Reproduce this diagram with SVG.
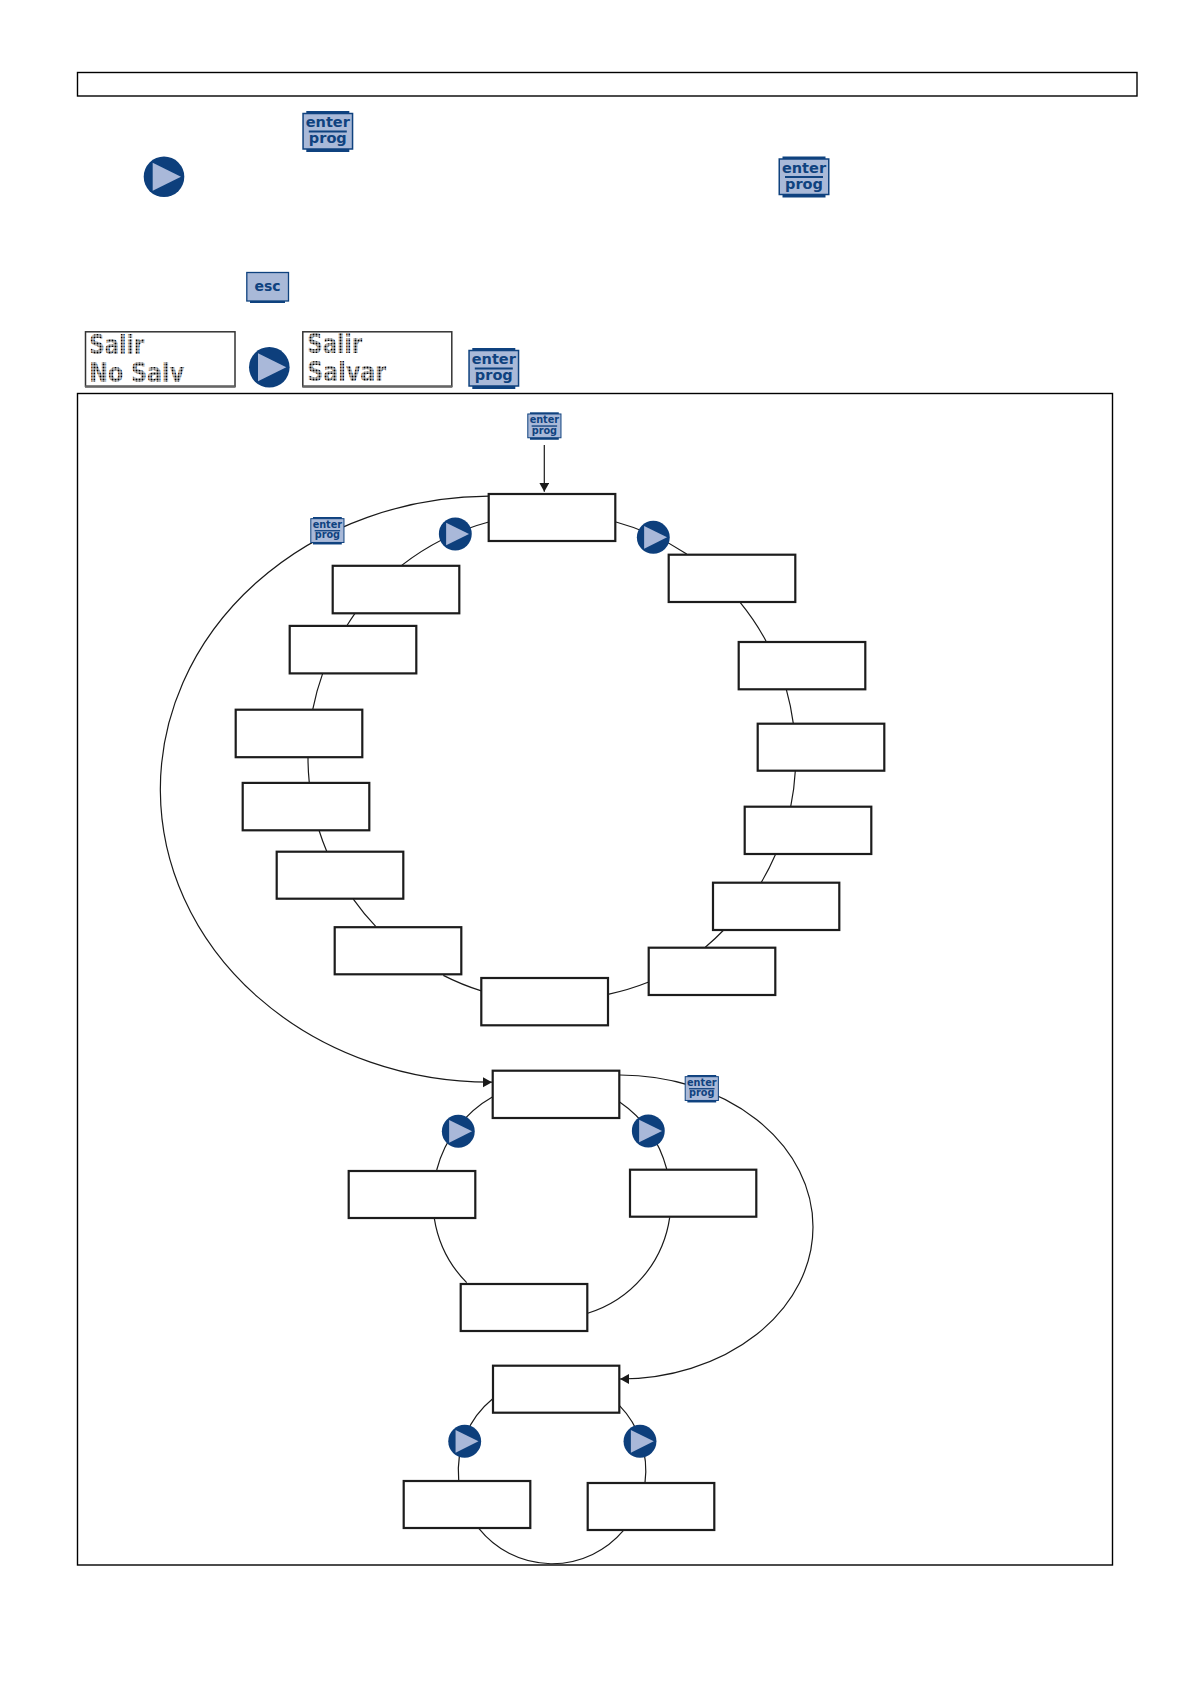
<svg xmlns="http://www.w3.org/2000/svg" xmlns:xlink="http://www.w3.org/1999/xlink" width="1190" height="1684" viewBox="0 0 1190 1684">
<style>
.frame{fill:none;stroke:#000;stroke-width:1.4}
.node{fill:#fff;stroke:#1c1c1c;stroke-width:2.2}
.edge{fill:none;stroke:#1a1a1a;stroke-width:1.2}
.it{font-family:"DejaVu Sans",sans-serif;font-weight:700;font-size:14.5px;fill:#0f427f;text-anchor:middle}
.lcdbox{fill:#fff;stroke:#333;stroke-width:1.5}
.lcdt{font-family:"DejaVu Sans",sans-serif;font-weight:700;font-size:26.500px;fill:url(#dots)}
</style>
<defs>
<pattern id="dots" width="3" height="3" patternUnits="userSpaceOnUse"><rect width="3" height="3" fill="#eee"/><rect x=".5" y=".5" width="2" height="2" fill="#000"/></pattern>
<marker id="arrow" markerUnits="userSpaceOnUse" markerWidth="11" markerHeight="11" refX="9" refY="5" orient="auto"><path d="M0 0L9 5L0 10Z" fill="#1a1a1a"/></marker>
<symbol id="enterbg" viewBox="0 0 51 41" width="51" height="41" overflow="visible">
<rect x="4" y="0" width="43" height="41" fill="#0f427f"/>
<rect x=".75" y="2.5" width="49.5" height="35.5" fill="#a9b9d8" stroke="#0f427f" stroke-width="1.5"/>
<rect x="6.500" y="19.500" width="38" height="2" fill="#0f427f"/>
</symbol>
<g id="play"><circle r="20.300" fill="#0d3f7c"/><path d="M-11.300 -14L17 0L-11.300 14Z" fill="#a9b8d9"/></g>
</defs>
<rect width="1190" height="1684" fill="#fff"/>
<rect class="frame" x="77.500" y="72.500" width="1059.500" height="23.500"/>
<rect class="frame" x="77.500" y="393.500" width="1035" height="1171.500"/>
<g id="connectors">
<path class="edge" d="M616 522A243.800 243.800 0 0 1 686.700 554"/>
<path class="edge" d="M740.300 602.700A243.800 243.800 0 0 1 766 641"/>
<path class="edge" d="M786.300 689.300A243.800 243.800 0 0 1 793.300 723.300"/>
<path class="edge" d="M795.300 771A243.800 243.800 0 0 1 790.700 806.700"/>
<path class="edge" d="M775.700 854A243.800 243.800 0 0 1 761.300 882.300"/>
<path class="edge" d="M723.700 930A243.800 243.800 0 0 1 705.300 947.300"/>
<path class="edge" d="M648.700 982A243.800 243.800 0 0 1 608 994.300"/>
<path class="edge" d="M481.300 990.900A243.800 243.800 0 0 1 443.300 975.400"/>
<path class="edge" d="M375.700 926.400A243.800 243.800 0 0 1 353.300 899.100"/>
<path class="edge" d="M326.700 851.300A243.800 243.800 0 0 1 319 830.300"/>
<path class="edge" d="M309.300 782.900A243.800 243.800 0 0 1 308 757.200"/>
<path class="edge" d="M312.700 709.700A243.800 243.800 0 0 1 322.700 673.400"/>
<path class="edge" d="M347 625.500A243.800 243.800 0 0 1 355 613.300"/>
<path class="edge" d="M401.700 565.400A243.800 243.800 0 0 1 488.700 522"/>
<path class="edge" d="M619.300 1101.700A118 118 0 0 1 666.700 1169"/>
<path class="edge" d="M669.700 1217.300A118 118 0 0 1 587.700 1313.300"/>
<path class="edge" d="M466.700 1282.700A118 118 0 0 1 434.300 1218.300"/>
<path class="edge" d="M436.700 1170A118 118 0 0 1 492.700 1096.700"/>
<path class="edge" d="M619.300 1405.300A93.500 93.500 0 0 1 645 1482.700"/>
<path class="edge" d="M623.300 1530.700A93.500 93.500 0 0 1 479 1528.700"/>
<path class="edge" d="M458.700 1480A93.500 93.500 0 0 1 492.700 1398.700"/>
<path class="edge" d="M488.700 496.200A330 293 0 0 0 492 1082.200" marker-end="url(#arrow)"/>
<path class="edge" d="M620 1075A193 152 0 0 1 620 1379" marker-end="url(#arrow)"/>
<path class="edge" d="M544.300 445V491.800" marker-end="url(#arrow)"/>
</g>
<g id="n0"><rect class="node" x="488.700" y="494" width="126.600" height="47"/></g>
<g id="n1"><rect class="node" x="668.700" y="554.700" width="126.600" height="47.300"/></g>
<g id="n2"><rect class="node" x="738.700" y="642" width="126.600" height="47.300"/></g>
<g id="n3"><rect class="node" x="757.700" y="723.700" width="126.600" height="47"/></g>
<g id="n4"><rect class="node" x="744.700" y="806.700" width="126.600" height="47.300"/></g>
<g id="n5"><rect class="node" x="713" y="882.700" width="126.300" height="47.300"/></g>
<g id="n6"><rect class="node" x="648.700" y="947.700" width="126.600" height="47.300"/></g>
<g id="n7"><rect class="node" x="481.300" y="978" width="126.700" height="47.300"/></g>
<g id="n8"><rect class="node" x="334.700" y="927.200" width="126.600" height="47.100"/></g>
<g id="n9"><rect class="node" x="276.700" y="851.700" width="126.600" height="47"/></g>
<g id="n10"><rect class="node" x="242.700" y="782.900" width="126.600" height="47.400"/></g>
<g id="n11"><rect class="node" x="235.700" y="709.700" width="126.600" height="47.500"/></g>
<g id="n12"><rect class="node" x="289.700" y="625.900" width="126.600" height="47.500"/></g>
<g id="n13"><rect class="node" x="332.700" y="565.800" width="126.600" height="47.500"/></g>
<g id="m0"><rect class="node" x="492.700" y="1070.700" width="126.600" height="47.300"/></g>
<g id="m1"><rect class="node" x="630" y="1169.700" width="126.300" height="47"/></g>
<g id="m2"><rect class="node" x="460.700" y="1284" width="126.600" height="47"/></g>
<g id="m3"><rect class="node" x="348.700" y="1171" width="126.600" height="47"/></g>
<g id="p0"><rect class="node" x="493" y="1365.700" width="126.300" height="47"/></g>
<g id="p1"><rect class="node" x="403.700" y="1481" width="126.600" height="47"/></g>
<g id="p2"><rect class="node" x="587.700" y="1483" width="126.600" height="47"/></g>
<g id="enter1" transform="translate(302.300 111)"><use xlink:href="#enterbg" href="#enterbg"/><text class="it" x="25.500" y="16">enter</text><text class="it" x="25.500" y="32">prog</text></g>
<g id="enter2" transform="translate(778.500 156.500)"><use xlink:href="#enterbg" href="#enterbg"/><text class="it" x="25.500" y="16">enter</text><text class="it" x="25.500" y="32">prog</text></g>
<g id="enter3" transform="translate(468.300 348)"><use xlink:href="#enterbg" href="#enterbg"/><text class="it" x="25.500" y="16">enter</text><text class="it" x="25.500" y="32">prog</text></g>
<g id="enter4" transform="translate(527.300 412.300) scale(.67)"><use xlink:href="#enterbg" href="#enterbg"/><text class="it" x="25.500" y="16">enter</text><text class="it" x="25.500" y="32">prog</text></g>
<g id="enter5" transform="translate(310.300 517) scale(.67)"><use xlink:href="#enterbg" href="#enterbg"/><text class="it" x="25.500" y="16">enter</text><text class="it" x="25.500" y="32">prog</text></g>
<g id="enter6" transform="translate(684.700 1075) scale(.67)"><use xlink:href="#enterbg" href="#enterbg"/><text class="it" x="25.500" y="16">enter</text><text class="it" x="25.500" y="32">prog</text></g>
<g id="esc"><rect x="250" y="296" width="35" height="7" fill="#0f427f"/><rect x="246.800" y="272.500" width="41.700" height="28.500" fill="#a9b9d8" stroke="#0f427f" stroke-width="1.300"/><text class="it" x="267.500" y="291" style="font-size:14px">esc</text></g>
<use xlink:href="#play" href="#play" transform="translate(164 176.800)"/>
<use xlink:href="#play" href="#play" transform="translate(269.300 367.300)"/>
<use xlink:href="#play" href="#play" transform="translate(653.300 537.300) scale(.81)"/>
<use xlink:href="#play" href="#play" transform="translate(455.300 534) scale(.81)"/>
<use xlink:href="#play" href="#play" transform="translate(458.300 1131.300) scale(.81)"/>
<use xlink:href="#play" href="#play" transform="translate(648.300 1131) scale(.81)"/>
<use xlink:href="#play" href="#play" transform="translate(464.700 1441.300) scale(.81)"/>
<use xlink:href="#play" href="#play" transform="translate(640 1441.300) scale(.81)"/>
<g id="lcd1"><rect class="lcdbox" x="85.500" y="331.800" width="149.500" height="54.500"/><rect x="85" y="385.500" width="150.500" height="2.300" fill="#666"/><text class="lcdt" x="89.300" y="354" textLength="55" lengthAdjust="spacingAndGlyphs">Salir</text><text class="lcdt" x="89.300" y="381.700" textLength="95" lengthAdjust="spacingAndGlyphs">No Salv</text></g>
<g id="lcd2"><rect class="lcdbox" x="302.800" y="331.800" width="149" height="54.500"/><rect x="302.300" y="385.500" width="150" height="2.300" fill="#666"/><text class="lcdt" x="307.300" y="353.300" textLength="55" lengthAdjust="spacingAndGlyphs">Salir</text><text class="lcdt" x="307.300" y="381" textLength="79" lengthAdjust="spacingAndGlyphs">Salvar</text></g>
</svg>
